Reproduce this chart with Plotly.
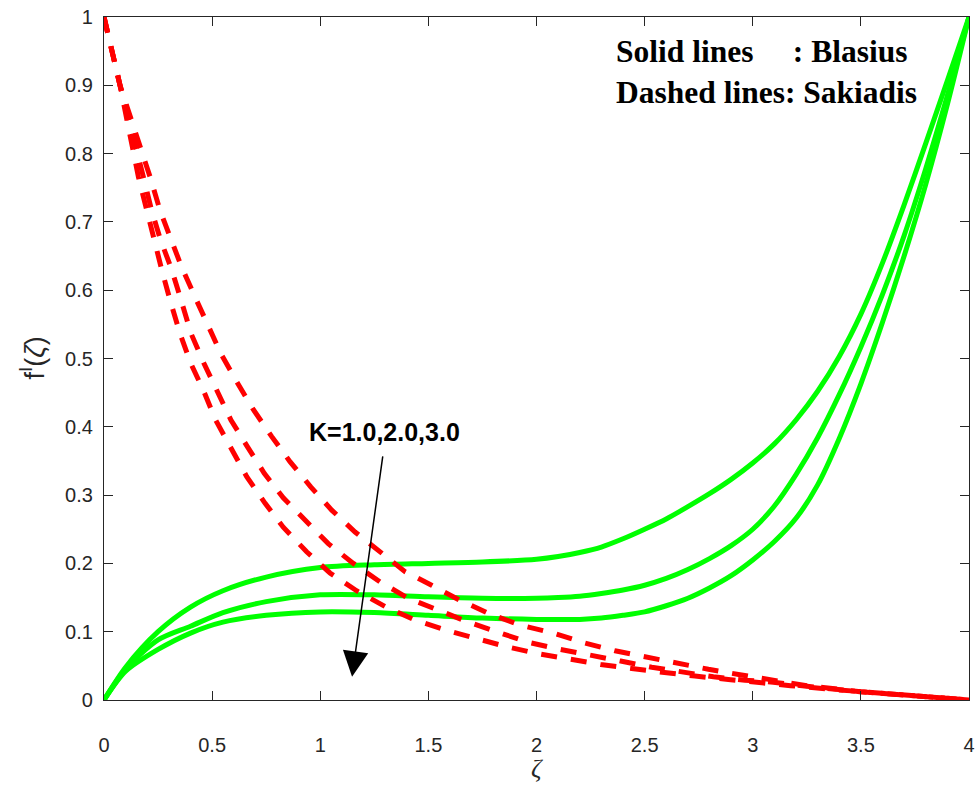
import plotly.graph_objects as go

# ---------------- data ----------------
# Blasius (solid green) curves, K = 1.0, 2.0, 3.0
z_blasius = [0, 0.1, 0.25, 0.4, 0.55, 0.75, 1.0, 1.25, 1.5, 1.75, 2.0, 2.1, 2.2, 2.3,
             2.4, 2.5, 2.6, 2.7, 2.8, 2.9, 3.0, 3.1, 3.2, 3.3, 3.4, 3.5, 3.6, 3.7,
             3.8, 3.9, 4.0]
f_blasius_k1 = [0, 0.048, 0.100, 0.136, 0.160, 0.180, 0.194, 0.198, 0.200, 0.202,
                0.206, 0.210, 0.216, 0.224, 0.236, 0.250, 0.265, 0.283, 0.302, 0.323,
                0.347, 0.375, 0.410, 0.452, 0.503, 0.565, 0.640, 0.725, 0.815, 0.907,
                1.0]
f_blasius_k2 = [0, 0.045, 0.088, 0.108, 0.128, 0.144, 0.154, 0.154, 0.151, 0.149,
                0.149, 0.150, 0.152, 0.156, 0.161, 0.168, 0.178, 0.191, 0.207, 0.226,
                0.250, 0.284, 0.330, 0.384, 0.447, 0.517, 0.594, 0.680, 0.778, 0.885,
                1.0]
f_blasius_k3 = [0, 0.042, 0.074, 0.098, 0.114, 0.124, 0.129, 0.128, 0.124, 0.120,
                0.118, 0.118, 0.118, 0.120, 0.124, 0.129, 0.138, 0.149, 0.164, 0.182,
                0.205, 0.232, 0.266, 0.315, 0.383, 0.463, 0.553, 0.650, 0.755, 0.872,
                1.0]

# Sakiadis (dashed red) curves, K = 1.0, 2.0, 3.0
z_sak_k1 = [0, 0.074, 0.213, 0.259, 0.308, 0.359, 0.421, 0.482, 0.544, 0.614, 0.691,
            0.775, 0.860, 0.956, 1.053, 1.161, 1.276, 1.392, 1.515, 1.646, 1.777,
            1.920, 2.078, 2.217, 2.363, 2.510, 2.648, 2.795, 2.941, 3.088, 3.25,
            3.5, 3.75, 4.0]
f_sak_k1 = [1.0, 0.900, 0.766, 0.717, 0.676, 0.634, 0.590, 0.549, 0.505, 0.466, 0.425,
            0.386, 0.349, 0.312, 0.278, 0.246, 0.217, 0.188, 0.168, 0.146, 0.127,
            0.110, 0.098, 0.084, 0.072, 0.0625, 0.054, 0.045, 0.037, 0.030, 0.021,
            0.012, 0.006, 0.0]
z_sak_k2 = [0, 0.074, 0.182, 0.220, 0.259, 0.313, 0.356, 0.402, 0.462, 0.521, 0.587,
            0.663, 0.741, 0.829, 0.929, 1.037, 1.153, 1.276, 1.407, 1.538, 1.677,
            1.816, 1.955, 2.096, 2.244, 2.389, 2.533, 2.679, 2.818, 2.964, 3.095,
            3.25, 3.5, 3.75, 4.0]
f_sak_k2 = [1.0, 0.900, 0.766, 0.717, 0.676, 0.630, 0.586, 0.537, 0.493, 0.454, 0.410,
            0.371, 0.332, 0.296, 0.264, 0.229, 0.200, 0.173, 0.149, 0.132, 0.115,
            0.100, 0.085, 0.075, 0.065, 0.057, 0.048, 0.041, 0.034, 0.029, 0.026,
            0.020, 0.012, 0.006, 0.0]
z_sak_k3 = [0, 0.074, 0.159, 0.197, 0.228, 0.267, 0.305, 0.351, 0.401, 0.459, 0.516,
            0.586, 0.660, 0.745, 0.829, 0.937, 1.045, 1.168, 1.299, 1.438, 1.585,
            1.723, 1.862, 2.004, 2.150, 2.297, 2.440, 2.586, 2.733, 2.887, 3.033,
            3.175, 3.35, 3.5, 3.75, 4.0]
f_sak_k3 = [1.0, 0.900, 0.766, 0.717, 0.676, 0.630, 0.586, 0.537, 0.493, 0.454, 0.410,
            0.371, 0.327, 0.288, 0.253, 0.217, 0.186, 0.160, 0.137, 0.117, 0.102,
            0.090, 0.078, 0.068, 0.060, 0.052, 0.046, 0.040, 0.035, 0.030, 0.025,
            0.021, 0.016, 0.012, 0.006, 0.0]

x_ticks = [0, 0.5, 1, 1.5, 2, 2.5, 3, 3.5, 4]
x_tick_text = ["0", "0.5", "1", "1.5", "2", "2.5", "3", "3.5", "4"]
y_ticks = [0, 0.1, 0.2, 0.3, 0.4, 0.5, 0.6, 0.7, 0.8, 0.9, 1]
y_tick_text = ["0", "0.1", "0.2", "0.3", "0.4", "0.5", "0.6", "0.7", "0.8", "0.9", "1"]

k_label = "K=1.0,2.0,3.0"
arrow_tail = (1.29, 0.359)
arrow_tip = (1.147, 0.034)

# ---------------- figure ----------------
AX = "#262626"
fig = go.Figure()

for f in (f_blasius_k1, f_blasius_k2, f_blasius_k3):
    fig.add_trace(go.Scatter(x=z_blasius, y=f, mode="lines",
                             line=dict(color="#00FF00", width=5, shape="spline", smoothing=0.8),
                             showlegend=False, hoverinfo="skip"))

for z, f in ((z_sak_k1, f_sak_k1), (z_sak_k2, f_sak_k2), (z_sak_k3, f_sak_k3)):
    fig.add_trace(go.Scatter(x=z, y=f, mode="lines",
                             line=dict(color="#FF0000", width=5, dash="16px,14px"),
                             showlegend=False, hoverinfo="skip"))

axis_common = dict(showgrid=False, zeroline=False, showline=True, linecolor=AX,
                   linewidth=1.3, mirror="ticks", ticks="inside", ticklen=9,
                   tickwidth=1.2, tickcolor=AX,
                   tickfont=dict(family="Liberation Sans, Arial", size=20, color=AX))

fig.update_xaxes(range=[0, 4], tickvals=x_ticks, ticktext=x_tick_text,
                 ticklabelstandoff=27, **axis_common)
fig.update_yaxes(range=[0, 1], tickvals=y_ticks, ticktext=y_tick_text,
                 ticklabelstandoff=6, **axis_common)

nb = "&nbsp;"
legend_text = ("<b>Solid lines" + nb * 5 + ": Blasius</b><br>"
               "<b>Dashed lines: Sakiadis</b>")

annotations = [
    dict(x=0.5, y=-0.1, xref="paper", yref="paper", text="<i>ζ</i>",
         showarrow=False, font=dict(family="Liberation Serif", size=26, color=AX),
         xanchor="center", yanchor="middle"),
    dict(x=(32 - 104) / 865, y=0.5, xref="paper", yref="paper",
         text="f<sup>I</sup>(<i>ζ</i>)", textangle=-90, showarrow=False,
         font=dict(family="Liberation Sans, Arial", size=27, color=AX),
         xanchor="center", yanchor="middle"),
    dict(x=(614 - 104) / 865, y=(700 - 71.5) / 683, xref="paper", yref="paper",
         text=legend_text, showarrow=False, align="left",
         font=dict(family="Liberation Serif", size=31.5, color="black"),
         xanchor="left", yanchor="middle"),
    dict(x=(384 - 104) / 216.25, y=(700 - 432) / 683, xref="x", yref="y",
         text="<b>" + k_label + "</b>", showarrow=False,
         font=dict(family="Liberation Sans, Arial", size=25, color="black"),
         xanchor="center", yanchor="middle"),
    dict(x=arrow_tip[0], y=arrow_tip[1], ax=arrow_tail[0], ay=arrow_tail[1],
         xref="x", yref="y", axref="x", ayref="y", text="", showarrow=True,
         arrowhead=2, arrowsize=3.4, arrowwidth=1.5, arrowcolor="black"),
]

fig.update_layout(width=977, height=789, paper_bgcolor="white", plot_bgcolor="white",
                  margin=dict(l=104, r=8, t=17, b=89, autoexpand=False),
                  annotations=annotations, showlegend=False)

fig.write_html("out.html")
